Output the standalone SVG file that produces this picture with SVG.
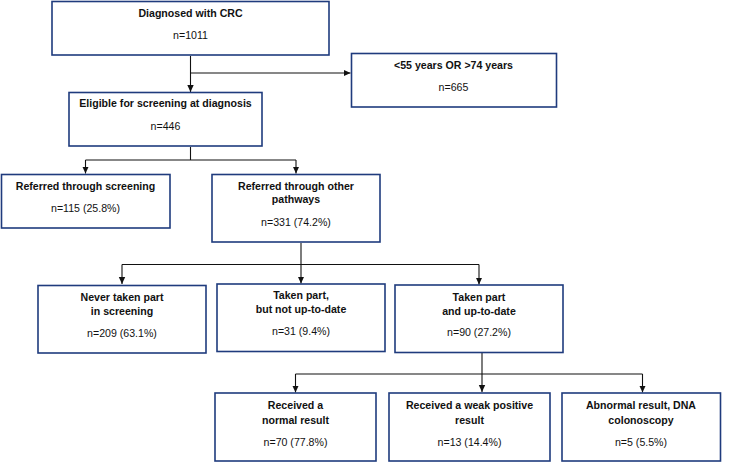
<svg xmlns="http://www.w3.org/2000/svg" width="750" height="463" viewBox="0 0 750 463">
<style>
.box{fill:#fff;stroke:#1f3b7d;stroke-width:1.6}
.t{font-family:"Liberation Sans",Arial,sans-serif;font-size:10.6px;text-anchor:middle;fill:#111}
.b{font-weight:bold}
.c{fill:none;stroke:#111;stroke-width:1.1}
</style>
<defs>
<marker id="ah" markerWidth="8" markerHeight="8" refX="7" refY="4" orient="auto" markerUnits="userSpaceOnUse">
<path d="M0,0.8 L7,4 L0,7.2 Z" fill="#111"/>
</marker>
</defs>
<rect width="750" height="463" fill="#fff"/>
<g id="connectors">
<path class="c" d="M190.5,56 V92" marker-end="url(#ah)"/>
<path class="c" d="M190.5,73 H350.5" marker-end="url(#ah)"/>
<path class="c" d="M190.5,147 V160"/>
<path class="c" d="M85.5,160 H296"/>
<path class="c" d="M85.5,160 V173.5" marker-end="url(#ah)"/>
<path class="c" d="M296,160 V173.5" marker-end="url(#ah)"/>
<path class="c" d="M301,243 V283.5" marker-end="url(#ah)"/>
<path class="c" d="M122,264.5 H479"/>
<path class="c" d="M122,264.5 V284" marker-end="url(#ah)"/>
<path class="c" d="M479,264.5 V284.5" marker-end="url(#ah)"/>
<path class="c" d="M482,353 V392" marker-end="url(#ah)"/>
<path class="c" d="M295.5,374 H642.5"/>
<path class="c" d="M295.5,374 V392.5" marker-end="url(#ah)"/>
<path class="c" d="M642.5,374 V392.5" marker-end="url(#ah)"/>
</g>
<g id="n1"><rect class="box" x="52" y="1.5" width="277" height="53.5"/>
<text class="t b" x="190.5" y="17">Diagnosed with CRC</text>
<text class="t" x="190.5" y="39">n=1011</text></g>
<g id="n2"><rect class="box" x="351.5" y="53.5" width="205" height="53.5"/>
<text class="t b" x="453.5" y="68.5">&lt;55 years OR &gt;74 years</text>
<text class="t" x="453.5" y="90.5">n=665</text></g>
<g id="n3"><rect class="box" x="69" y="92.5" width="193" height="53.5"/>
<text class="t b" x="165.5" y="107">Eligible for screening at diagnosis</text>
<text class="t" x="165.5" y="129.5">n=446</text></g>
<g id="n4"><rect class="box" x="1.5" y="174.5" width="168.5" height="53.5"/>
<text class="t b" x="85.5" y="189.5">Referred through screening</text>
<text class="t" x="85.5" y="212">n=115 (25.8%)</text></g>
<g id="n5"><rect class="box" x="212" y="174.5" width="168" height="67.5"/>
<text class="t b" x="296" y="189.5">Referred through other</text>
<text class="t b" x="296" y="203">pathways</text>
<text class="t" x="296" y="225.5">n=331 (74.2%)</text></g>
<g id="n6"><rect class="box" x="38" y="285.5" width="168" height="67.5"/>
<text class="t b" x="122" y="301">Never taken part</text>
<text class="t b" x="122" y="315">in screening</text>
<text class="t" x="122" y="336.5">n=209 (63.1%)</text></g>
<g id="n7"><rect class="box" x="217" y="284" width="168" height="67.5"/>
<text class="t b" x="301" y="299">Taken part,</text>
<text class="t b" x="301" y="313">but not up-to-date</text>
<text class="t" x="301" y="335">n=31 (9.4%)</text></g>
<g id="n8"><rect class="box" x="395" y="285" width="168" height="67.5"/>
<text class="t b" x="479" y="300.5">Taken part</text>
<text class="t b" x="479" y="315">and up-to-date</text>
<text class="t" x="479" y="335.5">n=90 (27.2%)</text></g>
<g id="n9"><rect class="box" x="215" y="393" width="161" height="68"/>
<text class="t b" x="295.5" y="409">Received a</text>
<text class="t b" x="295.5" y="424">normal result</text>
<text class="t" x="295.5" y="445.5">n=70 (77.8%)</text></g>
<g id="n10"><rect class="box" x="389" y="393" width="161" height="68"/>
<text class="t b" x="469.5" y="409">Received a weak positive</text>
<text class="t b" x="469.5" y="424">result</text>
<text class="t" x="469.5" y="445.5">n=13 (14.4%)</text></g>
<g id="n11"><rect class="box" x="562" y="393" width="158.5" height="68"/>
<text class="t b" x="641" y="409">Abnormal result, DNA</text>
<text class="t b" x="641" y="424">colonoscopy</text>
<text class="t" x="641" y="445.5">n=5 (5.5%)</text></g>
</svg>
